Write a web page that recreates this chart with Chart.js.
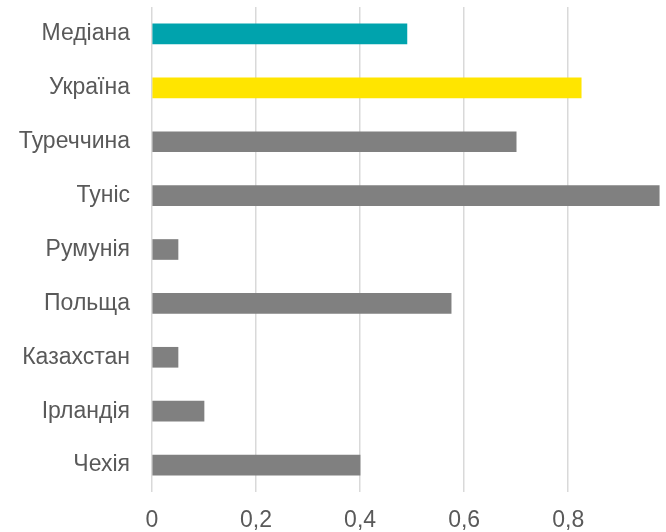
<!DOCTYPE html>
<html>
<head>
<meta charset="utf-8">
<script src="https://cdn.jsdelivr.net/npm/chart.js@4"></script>
<style>
  html, body { margin: 0; padding: 0; background: #fff; overflow: hidden; }
  #wrap { width: 666px; height: 532px; }
</style>
</head>
<body>
<div id="wrap"><canvas id="myChart"></canvas></div>
<script>
// Categorias (de arriba a abajo)
const kraini = ['Медіана', 'Україна', 'Туреччина', 'Туніс', 'Румунія', 'Польща', 'Казахстан', 'Ірландія', 'Чехія'];
// Valores
const znachennia = [0.49, 0.825, 0.70, 0.975, 0.05, 0.575, 0.05, 0.10, 0.40];
// Colores de cada barra
const kolory = ['#00A3AD', '#FFE500', '#808080', '#808080', '#808080', '#808080', '#808080', '#808080', '#808080'];
// Ticks del eje x
const ticksX = [0, 0.2, 0.4, 0.6, 0.8];

const cnv = document.getElementById('myChart');

new Chart(cnv, {
    type: 'bar',
    data: {
        labels: kraini,
        datasets: [{
            data: znachennia,
            backgroundColor: kolory,
            barThickness: 20
        }]
    },
    options: {
        indexAxis: 'y',
        responsive: true,
        maintainAspectRatio: false,
        animation: false,
        layout: { padding: { top: 7, right: 0, bottom: 0, left: 0 } },
        plugins: {
            legend: { display: false },
            tooltip: { enabled: false }
        },
        scales: {
            x: {
                min: 0,
                max: 0.988,
                afterBuildTicks: (axis) => {
                    axis.ticks = ticksX.map(v => ({ value: v }));
                },
                afterFit: (axis) => { axis.height = 40; },
                grid: { color: '#D9D9D9', lineWidth: 1.5, drawTicks: false },
                border: { display: false },
                ticks: {
                    padding: 15,
                    color: '#595959',
                    font: { family: 'Liberation Sans', size: 23 },
                    callback: (v) => String(v).replace('.', ',')
                }
            },
            y: {
                grid: { display: false, drawTicks: false },
                border: { display: false },
                afterFit: (axis) => {
                    axis.width = 152;
                    // quito el relleno vertical que mete el padding de las etiquetas
                    axis.paddingTop = 0;
                    axis.paddingBottom = 0;
                },
                ticks: {
                    padding: 22,
                    color: '#595959',
                    font: { family: 'Liberation Sans', size: 23 }
                }
            }
        }
    }
});
</script>
</body>
</html>
